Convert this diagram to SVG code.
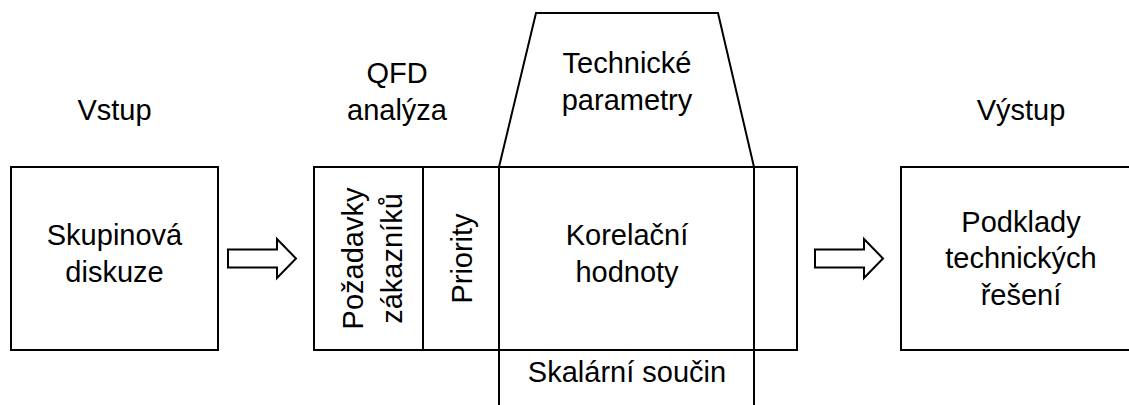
<svg xmlns="http://www.w3.org/2000/svg" width="1129" height="405" viewBox="0 0 1129 405">
<style>
.b{fill:#fff;stroke:#000;stroke-width:2}
.l{fill:none;stroke:#000;stroke-width:2}
text{font-family:"Liberation Sans",Arial,sans-serif;font-size:29px;fill:#000;text-anchor:middle}
</style>
<rect width="1129" height="405" fill="#fff"/>
<g id="input">
<text x="114.5" y="120">Vstup</text>
<rect class="b" x="11" y="167" width="207" height="183"/>
<text x="114.5" y="245">Skupinová</text>
<text x="114.5" y="282">diskuze</text>
</g>
<g id="qfd">
<text x="397" y="83">QFD</text>
<text x="397" y="120">analýza</text>
<polygon class="b" points="499,167 536,13 718,13 754,167"/>
<text x="627" y="73">Technické</text>
<text x="627" y="110">parametry</text>
<rect class="b" x="314" y="167" width="483" height="183"/>
<line class="l" x1="423" y1="167" x2="423" y2="350"/>
<line class="l" x1="499" y1="167" x2="499" y2="405"/>
<line class="l" x1="754" y1="167" x2="754" y2="405"/>
<text transform="translate(363,258.5) rotate(-90)">Požadavky</text>
<text transform="translate(402,258.5) rotate(-90)">zákazníků</text>
<text transform="translate(472,258.5) rotate(-90)">Priority</text>
<text x="627" y="245">Korelační</text>
<text x="627" y="282">hodnoty</text>
<text x="627" y="382">Skalární součin</text>
</g>
<g id="output">
<text x="1021" y="120">Výstup</text>
<rect class="b" x="901" y="167" width="240" height="183"/>
<text x="1021" y="232">Podklady</text>
<text x="1021" y="268">technických</text>
<text x="1021" y="305">řešení</text>
</g>
<g id="connectors">
<polygon class="b" points="228,249.5 277,249.5 277,239 296,258.5 277,278 277,267.5 228,267.5"/>
<polygon class="b" points="815,249.5 864,249.5 864,239 883,258.5 864,278 864,267.5 815,267.5"/>
</g>
</svg>
